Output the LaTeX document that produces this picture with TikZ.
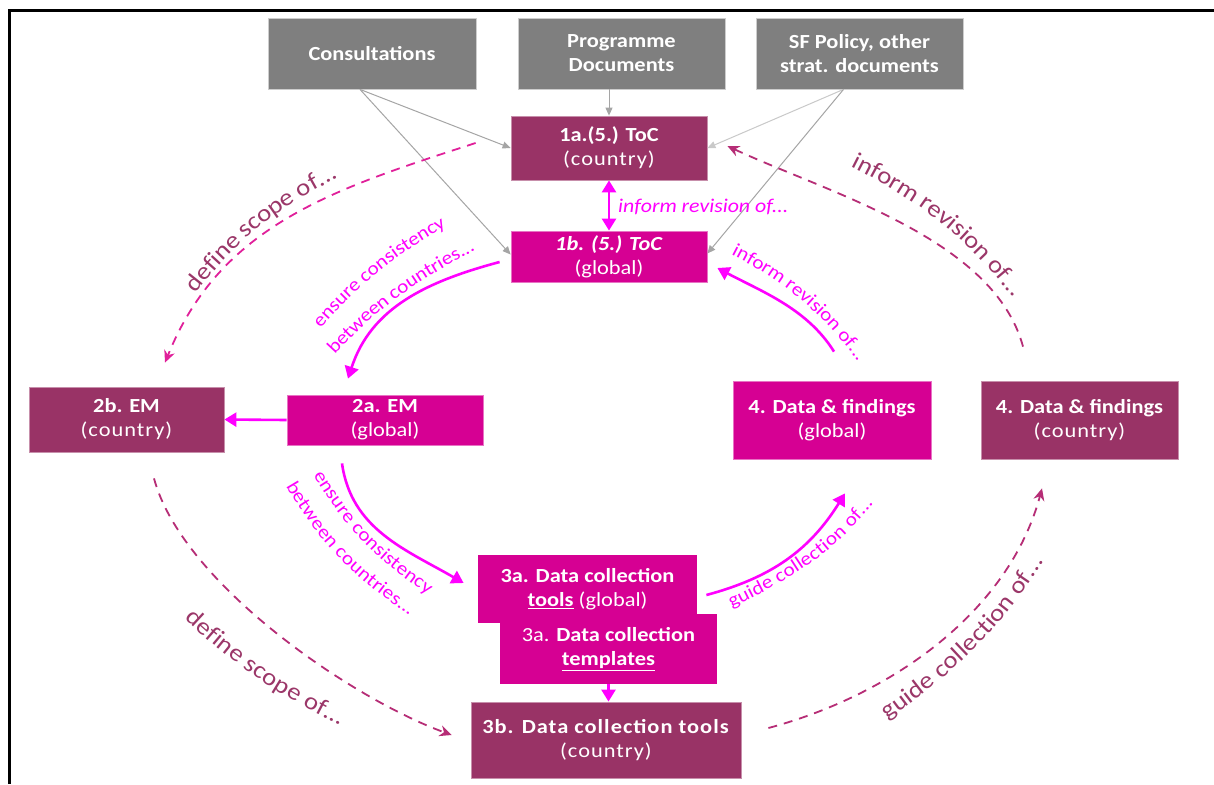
\documentclass[tikz,border=0pt]{standalone}
\usepackage{fontspec}
\setmainfont{Carlito}[FakeStretch=1.12]
\usetikzlibrary{arrows.meta,decorations.text}
\definecolor{boxgray}{RGB}{127,127,127}
\definecolor{graybd}{RGB}{205,205,205}
\definecolor{maroonc}{RGB}{153,51,102}
\definecolor{magc}{RGB}{214,0,147}
\definecolor{bmag}{RGB}{255,0,255}
\definecolor{dashA}{RGB}{224,32,154}
\definecolor{dashB}{RGB}{182,45,118}
\definecolor{lblmar}{RGB}{155,55,105}
\definecolor{arrgray}{RGB}{165,165,165}
\newcommand{\marfmt}{\fontsize{24}{28}\selectfont\color{lblmar}}
\newcommand{\magfmt}{\fontsize{19}{23}\selectfont\color{bmag}}
\newcommand{\ctry}{{\addfontfeature{LetterSpace=5}(country)}}
\begin{document}
\begin{tikzpicture}[x=1pt,y=1pt,
  box/.style={text=white, align=center, inner sep=0pt, line width=0.8pt,
    font=\fontsize{20}{24}\selectfont},
  graybox/.style={box, fill=boxgray, draw=graybd},
  marbox/.style={box, fill=maroonc, draw=maroonc!55!white},
  magbox/.style={box, fill=magc, draw=magc!55!white},
  grayarr/.style={draw=arrgray, line width=1pt, -{Triangle[length=8pt,width=7pt]}},
  magarr/.style={draw=bmag, line width=2.6pt, -{Triangle[length=12pt,width=14pt]}},
  dasharrA/.style={draw=dashA, line width=1.8pt, dash pattern=on 9pt off 7pt, -{Stealth[length=12pt,width=11pt]}},
  dasharrB/.style={dasharrA, draw=dashB},
  martext/.style={decorate, decoration={text along path, text align=center, raise=-7pt, text={|\marfmt|#1}}},
  magtext/.style={decorate, decoration={text along path, text align=center, raise=-5.5pt, text={|\magfmt|#1}}}
]
\useasboundingbox (0,0) rectangle (1214,-784);
\fill[white] (0,0) rectangle (1214,-784);
\draw[line width=3pt] (9.5,-784) -- (9.5,-10.5) -- (1214,-10.5);

% source boxes
\node[graybox, minimum width=208pt, minimum height=71pt] (cons) at (372,-53.5) {\textbf{Consultations}};
\node[graybox, minimum width=207pt, minimum height=71pt] (prog) at (621.5,-53.5) {\textbf{Programme}\\\textbf{Documents}};
\node[graybox, minimum width=207pt, minimum height=71pt] (sf) at (859.5,-53.5) {\textbf{SF Policy, other}\\\textbf{strat. documents}};

% ToC
\node[marbox, minimum width=196pt, minimum height=64pt] (t1a) at (609,-148) {\textbf{1a.(5.) ToC}\\\ctry};
\node[magbox, minimum width=196pt, minimum height=51pt] (t1b) at (609,-256.5) {\textbf{\textit{1b. (5.) ToC}}\\(global)};

% EM
\node[marbox, minimum width=195pt, minimum height=65pt] (em2b) at (126.5,-419.5) {\textbf{2b. EM}\\\ctry};
\node[magbox, minimum width=196pt, minimum height=50pt] (em2a) at (385,-420) {\textbf{2a. EM}\\(global)};

% Data & findings
\node[magbox, minimum width=198pt, minimum height=78pt] (d4g) at (832,-420) {\textbf{4. Data \& findings}\\(global)};
\node[marbox, minimum width=197pt, minimum height=78pt] (d4c) at (1079.5,-420) {\textbf{4. Data \& findings}\\\ctry};

% Data collection
\node[magbox, draw=none, minimum width=217pt, minimum height=70pt] (tpl) at (608.5,-649) {3a. \textbf{Data collection}\\\textbf{\underline{templates}}};
\node[magbox, draw=none, minimum width=219pt, minimum height=68pt] (tools) at (587.5,-589) {\textbf{3a. Data collection}\\\textbf{\underline{tools}} (global)};
\node[marbox, minimum width=270pt, minimum height=76pt] (dc3b) at (606,-740) {{\addfontfeature{LetterSpace=5}\textbf{3b. Data collection tools}}\\\ctry};

% gray inputs
\draw[grayarr] ([xshift=-12pt]cons.south) -- (t1a.west);
\draw[grayarr] ([xshift=-12pt]cons.south) -- ([yshift=2pt]t1b.west);
\draw[grayarr] (t1a.north |- prog.south) -- (t1a.north);
\draw[grayarr, draw=arrgray!60] ([xshift=-16pt]sf.south) -- (t1a.east);
\draw[grayarr] ([xshift=-16pt]sf.south) -- ([yshift=3pt]t1b.east);

% magenta (global) connectors
\draw[magarr, {Triangle[length=12pt,width=14pt]}-{Triangle[length=12pt,width=14pt]}] (t1a.south) -- (t1b.north);
\node[text=bmag, inner sep=0pt, font=\fontsize{19.5}{23}\selectfont, anchor=west] (lrev1) at (618,-207) {\textit{inform revision of...}};
\draw[magarr] (em2a.west) -- (em2b.east);
\draw[magarr] (tpl.south) -- (tpl.south |- dc3b.north);
\draw[magarr] ([xshift=-11pt,yshift=-5.5pt]t1b.west) to[out=195,in=72] ([xshift=-37pt,yshift=16pt]em2a.north);
\draw[magarr] ([xshift=-43pt,yshift=-18pt]em2a.south) to[out=-82,in=150] ([xshift=-14pt,yshift=6pt]tools.west);
\draw[magarr] ([xshift=9pt,yshift=-6pt]tools.east) to[out=15,in=238] ([xshift=13pt,yshift=-34pt]d4g.south);
\draw[magarr] ([xshift=2pt,yshift=29pt]d4g.north) to[out=122,in=-28,looseness=0.9] ([xshift=10pt,yshift=-11.5pt]t1b.east);

% magenta curved labels
\path[magtext={ensure consistency}] (300,-344) to[out=50,in=208] (465.7,-209.5);
\path[magtext={between countries...}] (316,-368) to[out=50,in=208] (492.7,-234.5);
\path[magtext={ensure consistency}] (306.3,-451) to[out=-62,in=148] (451.2,-603.2);
\path[magtext={between countries...}] (279.3,-463) to[out=-62,in=148] (432.2,-623.2);
\path[magtext={guide collection of...}] (706.3,-613.6) to[out=25,in=235] (884.3,-479.5);
\path[magtext={inform revision of...}] (712.3,-239.4) to[out=-25,in=125] (876.3,-377.5);

% dashed (country) connectors
\draw[dasharrA] ([xshift=-35pt,yshift=5pt]t1a.west) to[out=198,in=68] ([xshift=38.5pt,yshift=24pt]em2b.north);
\draw[dasharrB] ([xshift=27.5pt,yshift=-26pt]em2b.south) to[out=-75,in=160,looseness=0.7] ([xshift=-19pt,yshift=5pt]dc3b.west);
\draw[dasharrB] ([xshift=27pt,yshift=12pt]dc3b.east) to[out=15,in=-105,looseness=0.9] ([xshift=-37.5pt,yshift=-29pt]d4c.south);
\draw[dasharrB] ([xshift=-56.5pt,yshift=34pt]d4c.north) to[out=105,in=-25,looseness=0.8] ([xshift=20pt,yshift=2pt]t1a.east);

% maroon curved labels
\path[martext={define scope of...}] (171.3,-314.6) to[out=55,in=205] (363.7,-157.3);
\path[martext={define scope of...}] (166.8,-591.8) to[out=-45,in=155] (371.2,-732.7);
\path[martext={guide collection of...}] (861.4,-730.2) to[out=35,in=240] (1052,-534);
\path[martext={inform revision of...}] (826.8,-147.3) to[out=-25,in=125] (1036.2,-317.6);
\end{tikzpicture}
\end{document}
